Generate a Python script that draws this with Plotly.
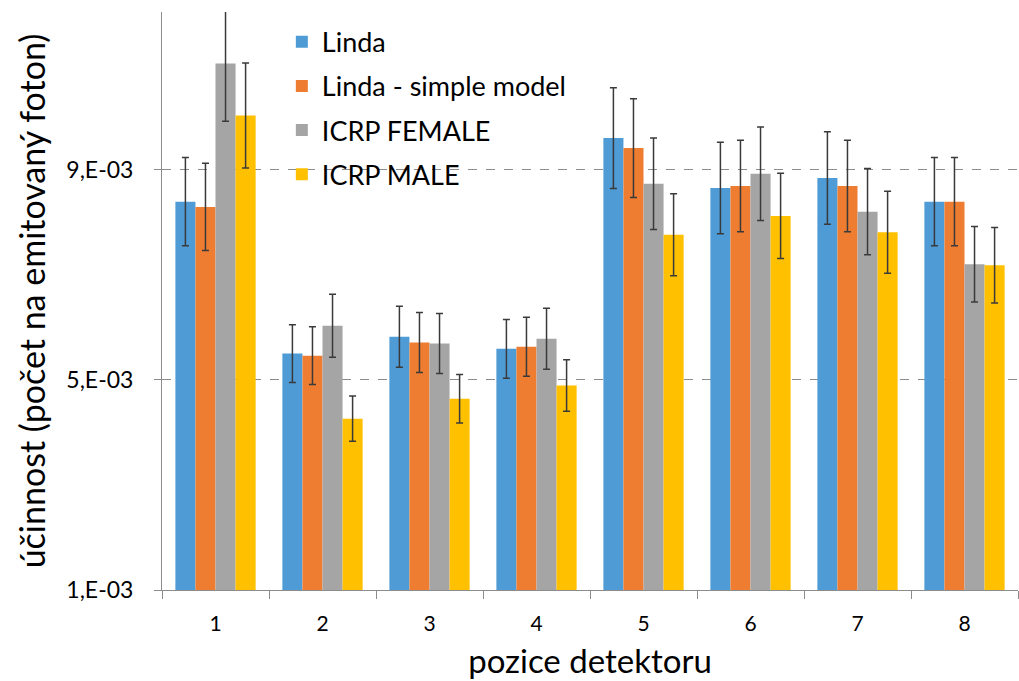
import plotly.graph_objects as go

categories = ["1", "2", "3", "4", "5", "6", "7", "8"]
series_names = ["Linda", "Linda - simple model", "ICRP FEMALE", "ICRP MALE"]
linda = [8.39e-3, 5.50e-3, 5.82e-3, 5.59e-3, 9.60e-3, 8.65e-3, 8.84e-3, 8.39e-3]
linda_simple = [8.29e-3, 5.46e-3, 5.71e-3, 5.63e-3, 9.41e-3, 8.69e-3, 8.69e-3, 8.39e-3]
icrp_female = [11.02e-3, 6.03e-3, 5.69e-3, 5.78e-3, 8.73e-3, 8.92e-3, 8.20e-3, 7.20e-3]
icrp_male = [10.03e-3, 4.26e-3, 4.64e-3, 4.89e-3, 7.76e-3, 8.12e-3, 7.81e-3, 7.18e-3]
err_linda = [0.84e-3, 0.55e-3, 0.58e-3, 0.56e-3, 0.96e-3, 0.87e-3, 0.88e-3, 0.84e-3]
err_linda_simple = [0.83e-3, 0.55e-3, 0.57e-3, 0.56e-3, 0.94e-3, 0.87e-3, 0.87e-3, 0.84e-3]
err_icrp_female = [1.10e-3, 0.60e-3, 0.57e-3, 0.58e-3, 0.87e-3, 0.89e-3, 0.82e-3, 0.72e-3]
err_icrp_male = [1.00e-3, 0.43e-3, 0.46e-3, 0.49e-3, 0.78e-3, 0.81e-3, 0.78e-3, 0.72e-3]
y_tickvals = [1e-3, 5e-3, 9e-3]
y_ticktext = ["1,E-03", "5,E-03", "9,E-03"]

colors = ["#4E9BD6", "#EE7D31", "#A5A5A5", "#FFC000"]
values = [linda, linda_simple, icrp_female, icrp_male]
errors = [err_linda, err_linda_simple, err_icrp_female, err_icrp_male]

FONT = "Lato"
fig = go.Figure()
for i, (name, vals, errs) in enumerate(zip(series_names, values, errors)):
    fig.add_trace(go.Bar(
        x=categories, y=vals, name=name, legendgroup=name,
        marker=dict(color=colors[i], line=dict(width=0)),
        error_y=dict(type="data", array=errs, visible=True,
                     color="#3A3A3A", thickness=1.5, width=3.5),
    ))

fig.update_layout(
    width=1019, height=681,
    margin=dict(l=162, r=1, t=12, b=91),
    paper_bgcolor="white", plot_bgcolor="white",
    barmode="group", bargap=0.25, bargroupgap=0,
    font=dict(family=FONT, color="#000000"),
    legend=dict(x=0.14, y=0.99, xanchor="left", yanchor="top",
                font=dict(size=27, family=FONT, color="#000"),
                tracegroupgap=6, bgcolor="rgba(0,0,0,0)"),
    xaxis=dict(
        type="category", showgrid=False, showline=True, linecolor="#8C8C8C",
        linewidth=1, ticks="outside", tickson="boundaries", ticklen=8,
        tickcolor="#8C8C8C", tickfont=dict(size=21, family=FONT, color="#000"),
        ticklabelstandoff=15,
        title=dict(text="pozice detektoru", font=dict(size=33, family=FONT, color="#000"),
                   standoff=15),
    ),
    yaxis=dict(
        range=[1e-3, 12e-3], tickvals=y_tickvals, ticktext=y_ticktext,
        showgrid=True, gridcolor="#8C8C8C", griddash="dash", gridwidth=1,
        showline=True, linecolor="#8C8C8C", linewidth=1,
        ticks="outside", ticklen=7, tickcolor="#8C8C8C",
        ticklabelstandoff=16,
        tickfont=dict(size=23, family=FONT, color="#000"),
        zeroline=False,
        title=dict(text="účinnost (počet na emitovaný foton)",
                   font=dict(size=34, family=FONT, color="#000"), standoff=10),
    ),
)

fig.write_html("out.html")
